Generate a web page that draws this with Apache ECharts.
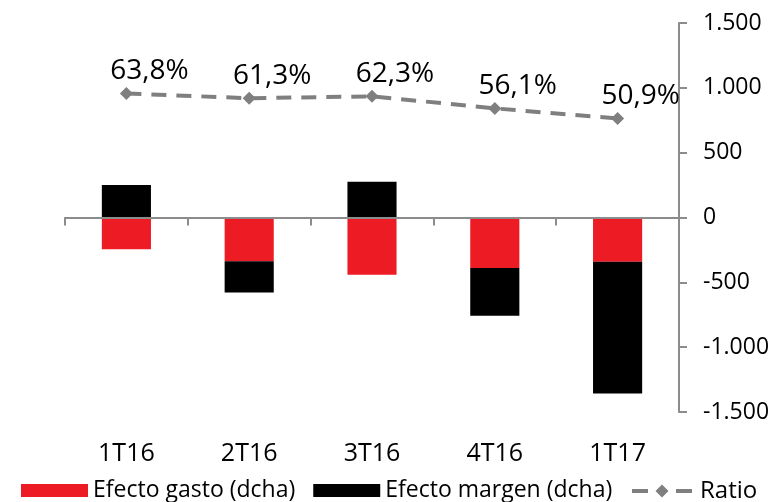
<!DOCTYPE html>
<html>
<head>
<meta charset="utf-8">
<script src="https://cdn.jsdelivr.net/npm/echarts@6/dist/echarts.min.js"></script>
<style>
  html, body { margin: 0; padding: 0; background: #fff; }
  #chart { width: 775px; height: 502px; }
</style>
</head>
<body>
<div id="chart"></div>
<script>
// datos
var trimestres = ['1T16', '2T16', '3T16', '4T16', '1T17'];
var efectoGasto = [-245, -338, -441, -389, -342];
var efectoMargen = [250, -240, 276, -369, -1016];
var ratio = [63.8, 61.3, 62.3, 56.1, 50.9];

var fuente = 'Open Sans';
var gris = '#7f7f7f';

function miles(v) {
  var s = String(Math.abs(v)).replace(/\B(?=(\d{3})+(?!\d))/g, '.');
  return (v < 0 ? '-' : '') + s;
}

// icono de leyenda: guion - rombo - guion
var iconoRatio = 'path://M0,4.5L16,4.5L16,8.5L0,8.5Z M23.5,6.5L30,0L36.5,6.5L30,13Z M44,4.5L60,4.5L60,8.5L44,8.5Z';

var myChart = echarts.init(document.getElementById('chart'));
myChart.setOption({
  animation: false,
  grid: { left: 65, right: 96, top: 23, bottom: 90 },
  legend: [
    {
      left: 16,
      top: 474,
      itemGap: 18,
      itemWidth: 67,
      itemHeight: 13,
      textStyle: { fontFamily: fuente, fontSize: 23, color: '#000' },
      data: [
        { name: 'Efecto gasto (dcha)', icon: 'rect' },
        { name: 'Efecto margen (dcha)', icon: 'rect' }
      ]
    },
    {
      left: 627,
      top: 474,
      itemWidth: 60,
      itemHeight: 13,
      textStyle: { fontFamily: fuente, fontSize: 24, color: '#000', padding: [0, 0, 0, 3] },
      data: [
        { name: 'Ratio', icon: iconoRatio, itemStyle: { color: gris } }
      ]
    }
  ],
  xAxis: [
    {
      type: 'category',
      data: trimestres,
      axisLine: { onZero: true, lineStyle: { color: '#8c8c8c', width: 2 } },
      axisTick: { show: true, length: 8, lineStyle: { color: '#8c8c8c', width: 2 } },
      axisLabel: { show: false },
      z: 5
    },
    {
      type: 'category',
      data: trimestres,
      position: 'bottom',
      axisLine: { show: false },
      axisTick: { show: false },
      axisLabel: { fontFamily: fuente, fontSize: 25, color: '#000', margin: 29 }
    }
  ],
  yAxis: [
    {
      type: 'value',
      position: 'right',
      min: -1500,
      max: 1500,
      interval: 500,
      splitLine: { show: false },
      axisLine: { show: true, lineStyle: { color: '#8c8c8c', width: 2 } },
      axisTick: { show: true, length: 8, lineStyle: { color: '#8c8c8c', width: 2 } },
      axisLabel: {
        fontFamily: fuente, fontSize: 23, color: '#000', margin: 24,
        formatter: miles
      }
    },
    {
      type: 'value',
      min: -100,
      max: 100,
      show: false
    }
  ],
  series: [
    {
      name: 'Efecto gasto (dcha)',
      type: 'bar',
      stack: 'efecto',
      barWidth: '40%',
      itemStyle: { color: '#ed1c24' },
      data: efectoGasto
    },
    {
      name: 'Efecto margen (dcha)',
      type: 'bar',
      stack: 'efecto',
      itemStyle: { color: '#000' },
      data: efectoMargen
    },
    {
      name: 'Ratio',
      type: 'line',
      yAxisIndex: 1,
      symbol: 'diamond',
      symbolSize: 13,
      itemStyle: { color: gris },
      lineStyle: { color: gris, width: 4, type: [15, 10] },
      label: {
        show: true,
        position: 'top',
        offset: [23, 3],
        fontFamily: fuente,
        fontSize: 28,
        color: '#000',
        formatter: function (p) { return p.value.toFixed(1).replace('.', ',') + '%'; }
      },
      data: ratio
    }
  ]
});
</script>
</body>
</html>
